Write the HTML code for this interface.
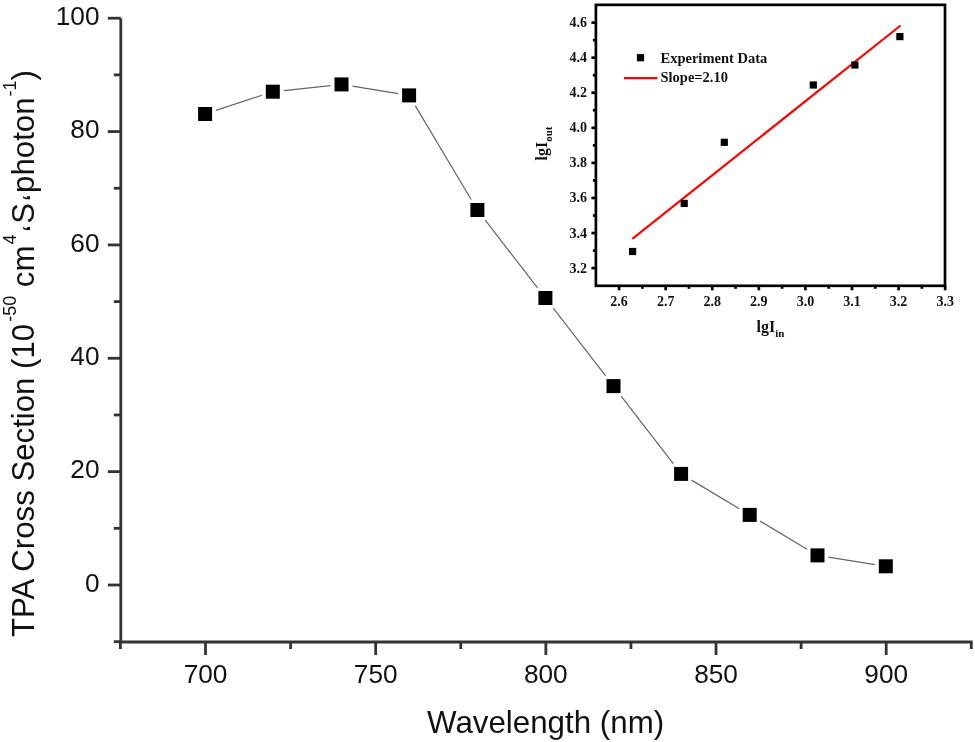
<!DOCTYPE html><html><head><meta charset="utf-8"><style>html,body{margin:0;padding:0;background:#fff;}svg{display:block;will-change:transform}</style></head><body>
<svg width="975" height="742" viewBox="0 0 975 742">
<rect width="975" height="742" fill="#fff"/>
<g stroke="#333" stroke-width="2.8" fill="none" stroke-linecap="butt">
<line x1="120.8" y1="18.199999999999932" x2="120.8" y2="643.3"/>
<line x1="119.5" y1="642.0" x2="972.5875" y2="642.0"/>
<line x1="107.8" y1="585.00" x2="120.8" y2="585.00"/>
<line x1="107.8" y1="471.64" x2="120.8" y2="471.64"/>
<line x1="107.8" y1="358.28" x2="120.8" y2="358.28"/>
<line x1="107.8" y1="244.92" x2="120.8" y2="244.92"/>
<line x1="107.8" y1="131.56" x2="120.8" y2="131.56"/>
<line x1="107.8" y1="18.20" x2="120.8" y2="18.20"/>
<line x1="113.8" y1="641.68" x2="120.8" y2="641.68"/>
<line x1="113.8" y1="528.32" x2="120.8" y2="528.32"/>
<line x1="113.8" y1="414.96" x2="120.8" y2="414.96"/>
<line x1="113.8" y1="301.60" x2="120.8" y2="301.60"/>
<line x1="113.8" y1="188.24" x2="120.8" y2="188.24"/>
<line x1="113.8" y1="74.88" x2="120.8" y2="74.88"/>
<line x1="205.50" y1="642.0" x2="205.50" y2="655.0"/>
<line x1="375.68" y1="642.0" x2="375.68" y2="655.0"/>
<line x1="545.85" y1="642.0" x2="545.85" y2="655.0"/>
<line x1="716.03" y1="642.0" x2="716.03" y2="655.0"/>
<line x1="886.20" y1="642.0" x2="886.20" y2="655.0"/>
<line x1="120.41" y1="642.0" x2="120.41" y2="649.0"/>
<line x1="290.59" y1="642.0" x2="290.59" y2="649.0"/>
<line x1="460.76" y1="642.0" x2="460.76" y2="649.0"/>
<line x1="630.94" y1="642.0" x2="630.94" y2="649.0"/>
<line x1="801.11" y1="642.0" x2="801.11" y2="649.0"/>
<line x1="971.29" y1="642.0" x2="971.29" y2="649.0"/>
</g>
<g font-family="Liberation Sans, sans-serif" font-size="26.2" fill="#111">
<text x="99.5" y="591.60" text-anchor="end">0</text>
<text x="99.5" y="478.24" text-anchor="end">20</text>
<text x="99.5" y="364.88" text-anchor="end">40</text>
<text x="99.5" y="251.52" text-anchor="end">60</text>
<text x="99.5" y="138.16" text-anchor="end">80</text>
<text x="99.5" y="24.80" text-anchor="end">100</text>
<text x="205.50" y="683" text-anchor="middle">700</text>
<text x="375.68" y="683" text-anchor="middle">750</text>
<text x="545.85" y="683" text-anchor="middle">800</text>
<text x="716.03" y="683" text-anchor="middle">850</text>
<text x="886.20" y="683" text-anchor="middle">900</text>
</g>
<text x="427" y="733.3" font-family="Liberation Sans, sans-serif" font-size="31.3" fill="#111">Wavelength (nm)</text>
<text transform="translate(33.7,637) rotate(-90)" font-family="Liberation Sans, sans-serif" font-size="31.2" fill="#111">TPA Cross Section (10<tspan font-size="18" dy="-17.5" dx="2">-50</tspan><tspan dy="17.5"> cm</tspan><tspan font-size="18" dy="-17.5" dx="1">4</tspan><tspan dy="28.5" dx="2.5">‘</tspan><tspan dy="-11" dx="1.5">S</tspan><tspan dy="11" dx="1.5">‘</tspan><tspan dy="-11" dx="1.5">photon</tspan><tspan font-size="18" dy="-17.5" dx="1">-1</tspan><tspan dy="17.5">)</tspan></text>
<path d="M215.90,110.44L262.00,95.26M283.78,90.53L330.52,85.57M352.45,86.18L398.15,93.62M415.32,105.84L471.18,199.56M485.25,220.17L537.55,287.83M553.26,308.16L605.64,375.94M621.33,396.27L673.27,463.73M691.53,480.14L739.27,508.66M760.13,521.13L807.07,549.17M828.45,557.15L874.85,564.55" stroke="#666" stroke-width="1.2" fill="none"/>
<rect x="198.10" y="107.00" width="14" height="14" fill="#000"/>
<rect x="265.80" y="84.70" width="14" height="14" fill="#000"/>
<rect x="334.50" y="77.40" width="14" height="14" fill="#000"/>
<rect x="402.10" y="88.40" width="14" height="14" fill="#000"/>
<rect x="470.40" y="203.00" width="14" height="14" fill="#000"/>
<rect x="538.40" y="291.00" width="14" height="14" fill="#000"/>
<rect x="606.50" y="379.10" width="14" height="14" fill="#000"/>
<rect x="674.10" y="466.90" width="14" height="14" fill="#000"/>
<rect x="742.70" y="507.90" width="14" height="14" fill="#000"/>
<rect x="810.50" y="548.40" width="14" height="14" fill="#000"/>
<rect x="878.80" y="559.30" width="14" height="14" fill="#000"/>
<g stroke="#000" stroke-width="2.7" fill="none">
<rect x="595.9" y="4.85" width="349.10" height="280.95"/>
<line x1="591.4" y1="268.10" x2="595.9" y2="268.10"/>
<line x1="591.4" y1="233.03" x2="595.9" y2="233.03"/>
<line x1="591.4" y1="197.96" x2="595.9" y2="197.96"/>
<line x1="591.4" y1="162.89" x2="595.9" y2="162.89"/>
<line x1="591.4" y1="127.82" x2="595.9" y2="127.82"/>
<line x1="591.4" y1="92.75" x2="595.9" y2="92.75"/>
<line x1="591.4" y1="57.68" x2="595.9" y2="57.68"/>
<line x1="591.4" y1="22.61" x2="595.9" y2="22.61"/>
<line x1="592.9" y1="250.57" x2="595.9" y2="250.57"/>
<line x1="592.9" y1="215.50" x2="595.9" y2="215.50"/>
<line x1="592.9" y1="180.43" x2="595.9" y2="180.43"/>
<line x1="592.9" y1="145.36" x2="595.9" y2="145.36"/>
<line x1="592.9" y1="110.29" x2="595.9" y2="110.29"/>
<line x1="592.9" y1="75.22" x2="595.9" y2="75.22"/>
<line x1="592.9" y1="40.15" x2="595.9" y2="40.15"/>
<line x1="619.10" y1="285.8" x2="619.10" y2="290.3"/>
<line x1="665.68" y1="285.8" x2="665.68" y2="290.3"/>
<line x1="712.26" y1="285.8" x2="712.26" y2="290.3"/>
<line x1="758.84" y1="285.8" x2="758.84" y2="290.3"/>
<line x1="805.42" y1="285.8" x2="805.42" y2="290.3"/>
<line x1="852.00" y1="285.8" x2="852.00" y2="290.3"/>
<line x1="898.58" y1="285.8" x2="898.58" y2="290.3"/>
<line x1="945.16" y1="285.8" x2="945.16" y2="290.3"/>
<line x1="642.39" y1="285.8" x2="642.39" y2="288.8"/>
<line x1="688.97" y1="285.8" x2="688.97" y2="288.8"/>
<line x1="735.55" y1="285.8" x2="735.55" y2="288.8"/>
<line x1="782.13" y1="285.8" x2="782.13" y2="288.8"/>
<line x1="828.71" y1="285.8" x2="828.71" y2="288.8"/>
<line x1="875.29" y1="285.8" x2="875.29" y2="288.8"/>
<line x1="921.87" y1="285.8" x2="921.87" y2="288.8"/>
</g>
<g font-family="Liberation Serif, serif" font-weight="bold" font-size="14" fill="#111">
<text x="587" y="272.60" text-anchor="end">3.2</text>
<text x="587" y="237.53" text-anchor="end">3.4</text>
<text x="587" y="202.46" text-anchor="end">3.6</text>
<text x="587" y="167.39" text-anchor="end">3.8</text>
<text x="587" y="132.32" text-anchor="end">4.0</text>
<text x="587" y="97.25" text-anchor="end">4.2</text>
<text x="587" y="62.18" text-anchor="end">4.4</text>
<text x="587" y="27.11" text-anchor="end">4.6</text>
<text x="619.10" y="306.1" text-anchor="middle">2.6</text>
<text x="665.68" y="306.1" text-anchor="middle">2.7</text>
<text x="712.26" y="306.1" text-anchor="middle">2.8</text>
<text x="758.84" y="306.1" text-anchor="middle">2.9</text>
<text x="805.42" y="306.1" text-anchor="middle">3.0</text>
<text x="852.00" y="306.1" text-anchor="middle">3.1</text>
<text x="898.58" y="306.1" text-anchor="middle">3.2</text>
<text x="945.16" y="306.1" text-anchor="middle">3.3</text>
</g>
<text x="770.5" y="331.6" text-anchor="middle" font-family="Liberation Serif, serif" font-weight="bold" font-size="16" fill="#111">lgI<tspan font-size="11" dy="5">in</tspan></text>
<text transform="translate(547.3,143.5) rotate(-90)" text-anchor="middle" font-family="Liberation Serif, serif" font-weight="bold" font-size="16" fill="#111">lgI<tspan font-size="11" dy="5">out</tspan></text>
<line x1="632.3" y1="238.9" x2="900.6" y2="25.5" stroke="#f00" stroke-width="2.2"/>
<rect x="629.00" y="247.90" width="7.2" height="7.2" fill="#000"/>
<rect x="680.60" y="199.80" width="7.2" height="7.2" fill="#000"/>
<rect x="720.70" y="138.70" width="7.2" height="7.2" fill="#000"/>
<rect x="809.70" y="81.40" width="7.2" height="7.2" fill="#000"/>
<rect x="851.30" y="61.40" width="7.2" height="7.2" fill="#000"/>
<rect x="896.30" y="33.00" width="7.2" height="7.2" fill="#000"/>
<rect x="636.9" y="54.1" width="7.2" height="7.2" fill="#000"/>
<line x1="624" y1="78.1" x2="657.4" y2="78.1" stroke="#f00" stroke-width="2.2"/>
<g font-family="Liberation Serif, serif" font-weight="bold" font-size="14.5" fill="#111">
<text x="660.5" y="63">Experiment Data</text>
<text x="660.5" y="82.3">Slope=2.10</text>
</g>
</svg></body></html>
